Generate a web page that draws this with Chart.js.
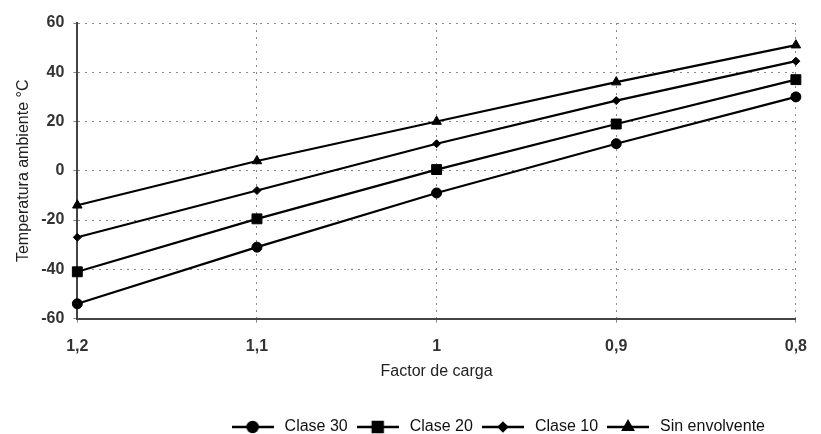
<!DOCTYPE html>
<html>
<head>
<meta charset="utf-8">
<script src="https://cdn.jsdelivr.net/npm/chart.js@4/dist/chart.umd.min.js"></script>
<style>
  body { margin: 0; background: #fff; }
  #wrap { width: 821px; height: 434px; }
</style>
</head>
<body>
<div id="wrap"><canvas id="tempChart"></canvas></div>
<script>
// data
const factores = ["1,2", "1,1", "1", "0,9", "0,8"];
const clase30 = [-54, -31, -9, 11, 30];
const clase20 = [-41, -19.5, 0.5, 19, 37];
const clase10 = [-27, -8, 11, 28.5, 44.5];
const sinEnvolvente = [-14, 4, 20, 36, 51];
const yTicks = [-60, -40, -20, 0, 20, 40, 60];

const FONT = "Liberation Sans, Arial, sans-serif";

// little line+marker pictures for the legend
function legendIcon(style, r) {
  const c = document.createElement("canvas");
  c.width = 42;
  c.height = 16;
  const g = c.getContext("2d");
  g.strokeStyle = "#000";
  g.lineWidth = 2.5;
  g.beginPath();
  g.moveTo(0, 8);
  g.lineTo(42, 8);
  g.stroke();
  g.fillStyle = "#000";
  Chart.helpers.drawPoint(g, { pointStyle: style, radius: r, borderWidth: 1 }, 21, 8);
  g.fill();
  return c;
}

const markers = [
  { style: "circle", r: 5 },
  { style: "rect", r: 7 },
  { style: "rectRot", r: 4 },
  { style: "triangle", r: 5.5 },
];

const series = [
  { label: "Clase 30", data: clase30 },
  { label: "Clase 20", data: clase20 },
  { label: "Clase 10", data: clase10 },
  { label: "Sin envolvente", data: sinEnvolvente },
];

const ctx = document.getElementById("tempChart").getContext("2d");

// legend sits right of centre in the original
const legendShift = {
  id: "legendShift",
  afterLayout(chart) {
    chart.legend.right = 771;
  },
};

const tempChart = new Chart(ctx, {
  type: "line",
  data: {
    labels: factores,
    datasets: series.map((s, i) => ({
      label: s.label,
      data: s.data,
      borderColor: "#000",
      backgroundColor: "#000",
      borderWidth: 2.2,
      pointStyle: markers[i].style,
      pointRadius: markers[i].r,
      pointBorderWidth: 1,
      fill: false,
      tension: 0,
    })),
  },
  options: {
    responsive: true,
    maintainAspectRatio: false,
    animation: false,
    layout: {
      padding: { top: 23, right: 25, left: 4, bottom: -11 },
    },
    plugins: {
      tooltip: { enabled: false },
      legend: {
        position: "bottom",
        align: "end",
        labels: {
          usePointStyle: true,
          pointStyleWidth: 48,
          color: "#111",
          font: { family: FONT, size: 16 },
          padding: 6,
          generateLabels(chart) {
            const items = Chart.defaults.plugins.legend.labels.generateLabels(chart);
            items.forEach((it, i) => {
              it.pointStyle = legendIcon(markers[i].style, markers[i].r);
            });
            return items;
          },
        },
      },
    },
    scales: {
      x: {
        offset: false,
        grid: {
          offset: false,
          color: "#888",
          lineWidth: 1,
          tickLength: 4,
        },
        border: { display: true, color: "#444", width: 2, dash: [2, 5] },
        ticks: {
          color: "#333",
          padding: 14,
          font: { family: FONT, size: 16, weight: "bold" },
        },
        title: {
          display: true,
          text: "Factor de carga",
          color: "#222",
          font: { family: FONT, size: 16 },
          padding: { top: -8, bottom: 32 },
        },
      },
      y: {
        min: -60,
        max: 60,
        afterBuildTicks(scale) {
          scale.ticks = yTicks.map((v) => ({ value: v }));
        },
        grid: {
          color: "#888",
          lineWidth: 1,
          tickLength: 4,
        },
        border: { display: true, color: "#444", width: 2, dash: [2, 5] },
        ticks: {
          color: "#333",
          padding: 9,
          font: { family: FONT, size: 16, weight: "bold" },
        },
        title: {
          display: true,
          text: "Temperatura ambiente °C",
          color: "#222",
          font: { family: FONT, size: 16 },
          padding: { top: 10, bottom: -1 },
        },
      },
    },
  },
  plugins: [legendShift],
});
</script>
</body>
</html>
